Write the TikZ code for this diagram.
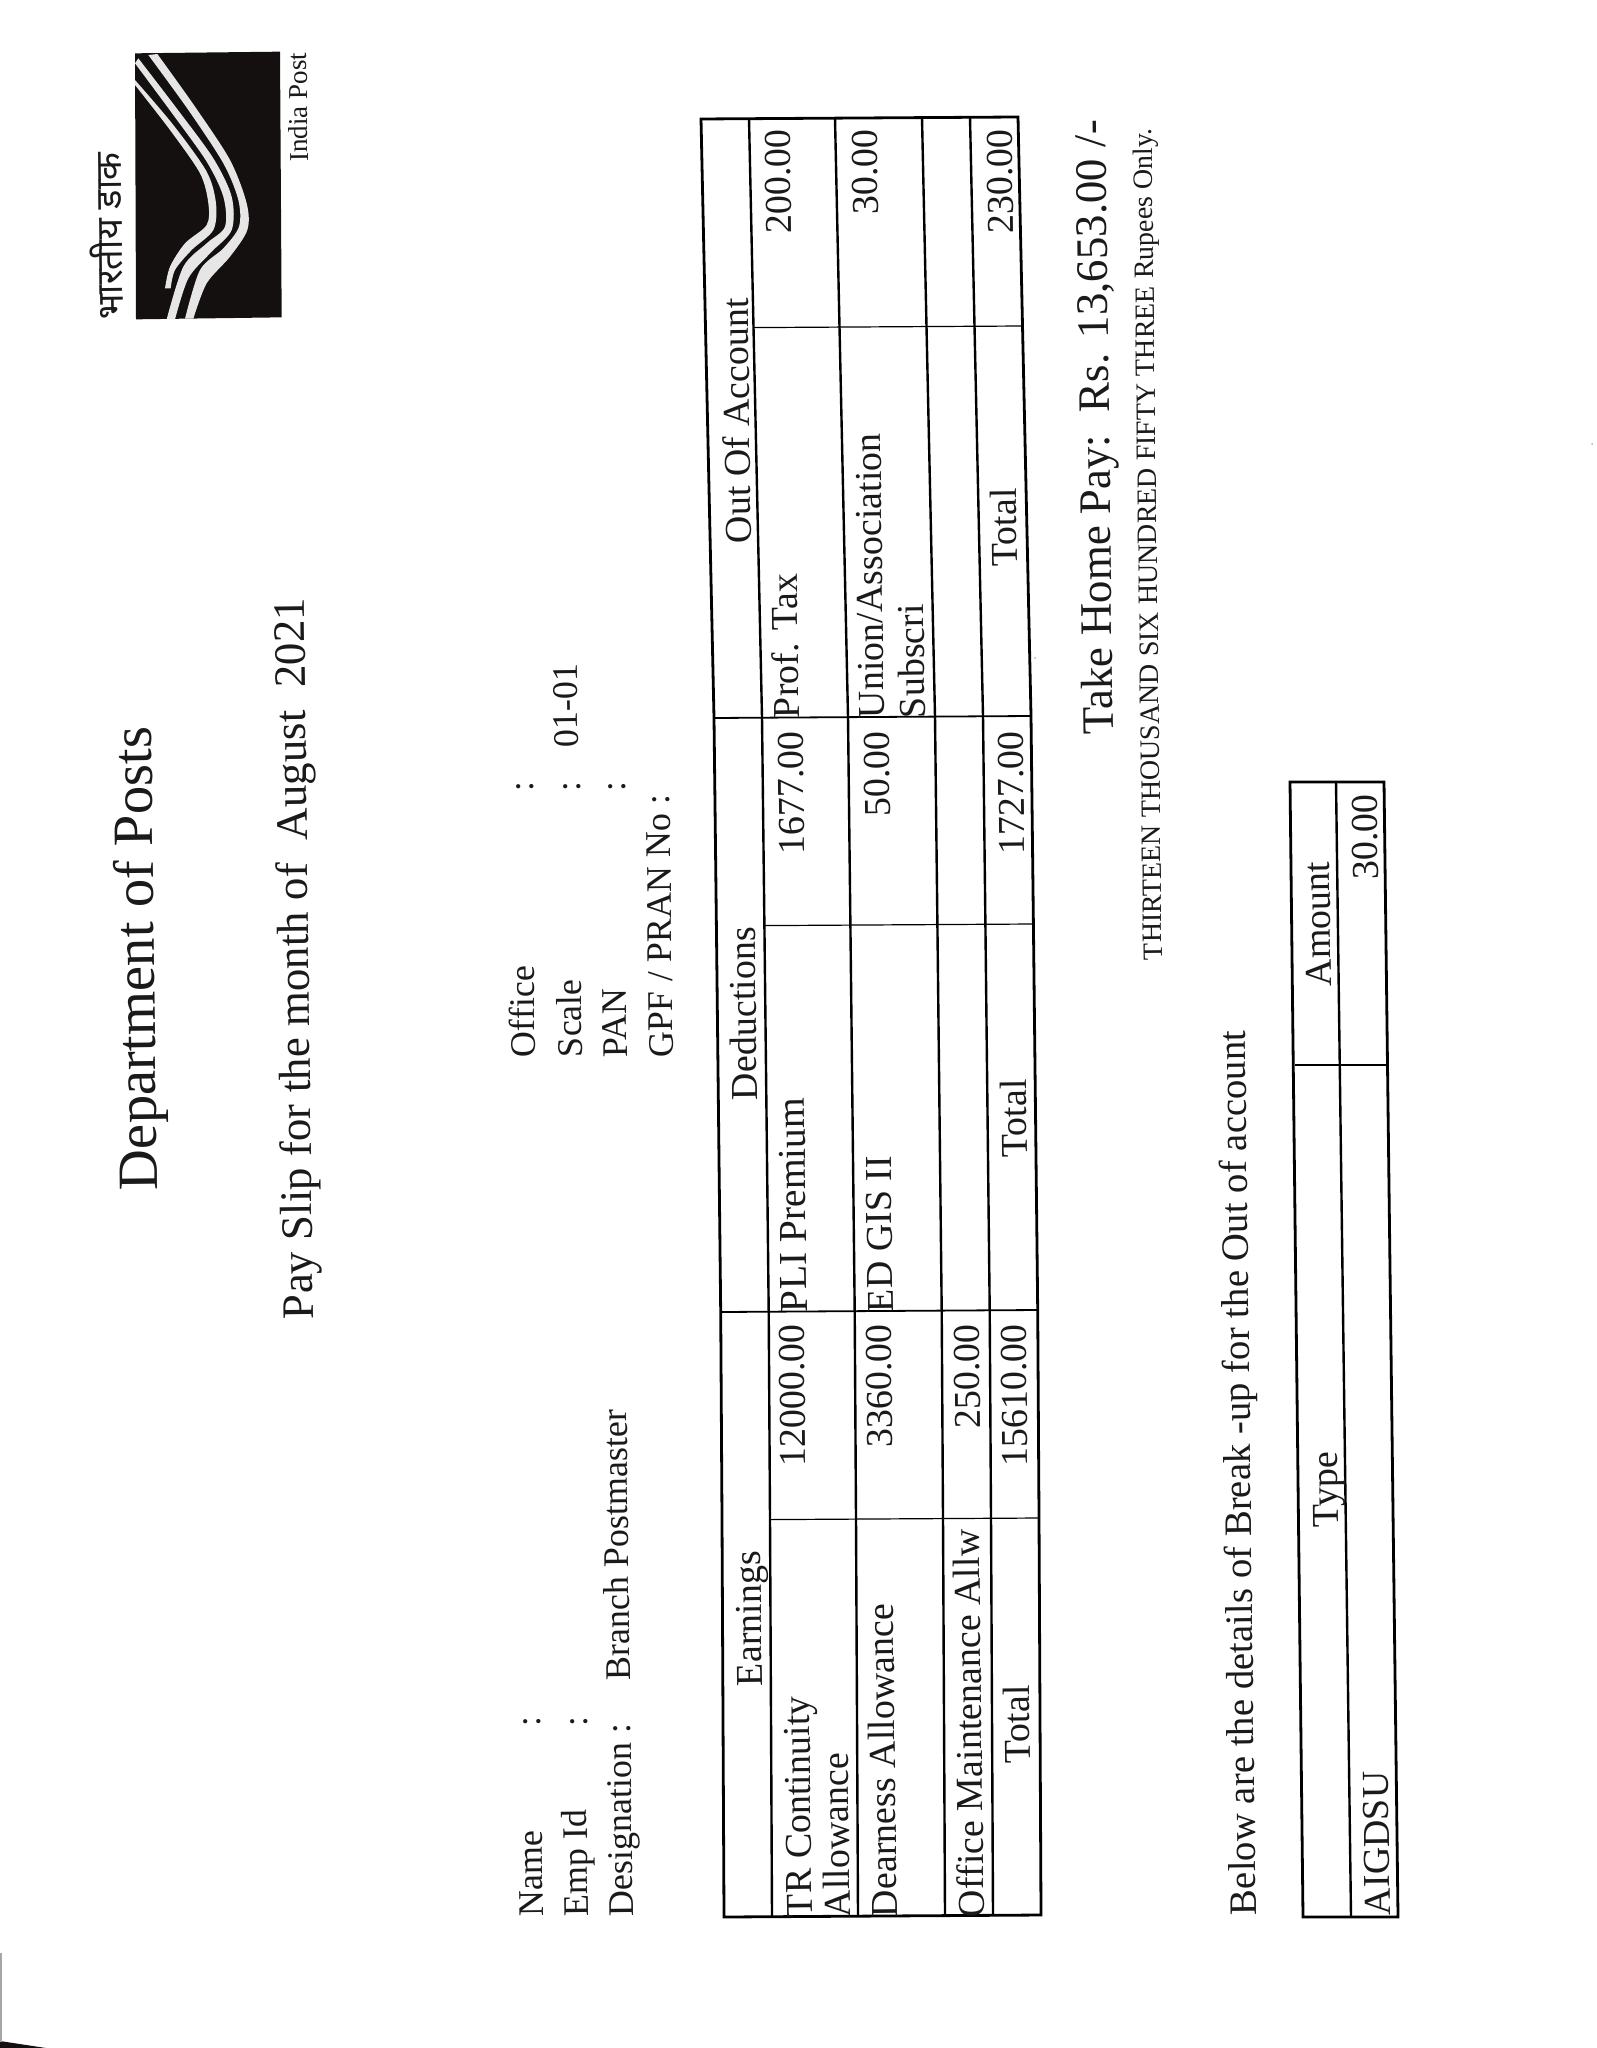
\documentclass[tikz,border=0pt]{standalone}
\usepackage{fontspec}
\setmainfont{Liberation Serif}
\newfontfamily\hindifont[Script=Devanagari]{Noto Sans}
\newcommand{\fs}[1]{\fontsize{#1}{#1}\selectfont}
\definecolor{ink}{HTML}{1A1A1A}
\definecolor{logoblack}{HTML}{141010}
\definecolor{stripe}{HTML}{E6E6E6}
\tikzset{
  txt/.style={inner sep=0pt,outer sep=0pt,rotate=90.7,text=ink},
  ltxt/.style={txt,anchor=base west},
  rtxt/.style={txt,anchor=base east},
  tbl/.style={font=\fs{19}},
  body/.style={font=\fs{18}},
  outerline/.style={draw=black,line width=1.4pt,line join=miter},
  rowline/.style={draw=black,line width=1.2pt},
  colline/.style={draw=black,line width=0.9pt},
  thinline/.style={draw=black,line width=0.6pt},
}
\begin{document}
\begin{tikzpicture}[x=0.5pt,y=-0.5pt]
\useasboundingbox (0,0) rectangle (1596,2048);
% page corner shadow
\fill[logoblack] (0,2041) -- (46,2048) -- (0,2048) -- cycle;
\fill[gray!70] (0,1953) rectangle (2,2042);
\fill[gray!60] (1592,444) circle (1);
\fill[gray!60] (1035,658) circle (1);
% logo
\begin{scope}[shift={(60,30)},x=0.16667pt,y=-0.16667pt]
\fill[logoblack] (225,70) -- (660,65) -- (665,862) -- (228,868) -- cycle;
\fill[stripe] plot[smooth] coordinates {(265,75)(385,240)(490,400)(535,510)(537,590)(490,655)(420,720)(375,866)} -- plot[smooth] coordinates {(400,866)(440,760)(510,680)(562,600)(560,520)(510,390)(405,230)(292,72)} -- cycle;
\fill[stripe] plot[smooth] coordinates {(225,100)(340,255)(440,395)(490,500)(495,590)(440,640)(370,710)(320,868)} -- plot[smooth] coordinates {(345,868)(385,745)(450,670)(515,600)(515,500)(460,385)(350,235)(235,85)} -- cycle;
\fill[stripe] plot[smooth] coordinates {(225,165)(330,300)(420,430)(445,520)(440,585)(375,640)(330,710)(315,775)} -- plot[smooth] coordinates {(332,775)(345,720)(395,660)(460,600)(468,520)(440,425)(340,285)(225,150)} -- cycle;
\end{scope}
\node[ltxt,font=\hindifont\fs{18.2}] (hindi) at (123,320) {भारतीय डाक};
\node[ltxt,font=\fs{13.6}] (ipost) at (308,162) {India Post};
% titles
\node[ltxt,font=\fs{28.4}] (dept) at (157,1190) {Department of Posts};
\node[ltxt,font=\fs{22.5}] (slip) at (313,1319) {Pay Slip for the month of\ \ August\ \ 2021};
% employee block
\node[ltxt,body] (name) at (543,1916) {Name};
\node[ltxt,body] (emp) at (588,1916) {Emp Id};
\node[ltxt,body] (desig) at (633,1916) {Designation :};
\node[ltxt,body] (c1) at (540,1726) {:};
\node[ltxt,body] (c2) at (587,1726) {:};
\node[ltxt,body] (bpm) at (630,1680) {Branch Postmaster};
\node[ltxt,body] (office) at (535,1057) {Office};
\node[ltxt,body] (scale) at (582,1057) {Scale};
\node[ltxt,body] (pan) at (627,1057) {PAN};
\node[ltxt,body] (gpf) at (673,1057) {GPF / PRAN No :};
\node[ltxt,body] (c3) at (533,791) {:};
\node[ltxt,body] (c4) at (580,791) {:};
\node[ltxt,body] (c5) at (625,791) {:};
\node[ltxt,body] (grade) at (578,747) {01-01};
% main table grid
\foreach \r/\bx in {0/701,1/749,2/835,3/922,4/970,5/1018}{
  \foreach \c/\yy/\off in {0/1917/23,1/1520/21,2/1312/19.7,3/926/15.4,4/718/13,5/328/4.5,6/119/0}{
    \pgfmathsetmacro{\gx}{\bx+\off}
    \pgfmathsetmacro{\gy}{\yy-0.4*\r}
    \coordinate (g-\r-\c) at (\gx,\gy);
  }
}
\foreach \r in {1,2,3,4}{
  \draw[rowline] (g-\r-0) -- (g-\r-1) -- (g-\r-2) -- (g-\r-3) -- (g-\r-4) -- (g-\r-5) -- (g-\r-6);
}
\foreach \c in {2,4}{
  \draw[colline] (g-0-\c) -- (g-5-\c);
}
\foreach \c in {1,3,5}{
  \draw[thinline] (g-1-\c) -- (g-5-\c);
}
\draw[outerline] (g-0-0) -- (g-0-1) -- (g-0-2) -- (g-0-3) -- (g-0-4) -- (g-0-5) -- (g-0-6) -- (g-5-6) -- (g-5-5) -- (g-5-4) -- (g-5-3) -- (g-5-2) -- (g-5-1) -- (g-5-0) -- cycle;
% headers
\node[ltxt,tbl] (h1) at (762,1686) {Earnings};
\node[ltxt,tbl] (h2) at (757,1100) {Deductions};
\node[ltxt,tbl] (h3) at (751,543) {Out Of Account};
% earnings
\node[ltxt,tbl] (e1) at (812,1917) {TR Continuity};
\node[ltxt,tbl] (e1b) at (850,1917) {Allowance};
\node[ltxt,tbl] (e2) at (897,1917) {Dearness Allowance};
\node[ltxt,tbl] (e3) at (984,1917) {Office Maintenance Allw};
\node[ltxt,tbl] (e4) at (1030,1763) {Total};
\node[rtxt,tbl] (ea1) at (804,1324) {12000.00};
\node[rtxt,tbl] (ea2) at (891,1324) {3360.00};
\node[rtxt,tbl] (ea3) at (979,1324) {250.00};
\node[rtxt,tbl] (ea4) at (1026,1324) {15610.00};
% deductions
\node[ltxt,font=\fs{19.8}] (d1) at (807,1312) {PLI Premium};
\node[ltxt,tbl] (d2) at (893,1312) {ED GIS II};
\node[ltxt,tbl] (d3) at (1027,1157) {Total};
\node[rtxt,tbl] (da1) at (803,731) {1677.00};
\node[rtxt,tbl] (da2) at (889,731) {50.00};
\node[rtxt,tbl] (da3) at (1023,731) {1727.00};
% out of account
\node[ltxt,tbl] (o1) at (799,718) {Prof. Tax};
\node[ltxt,tbl] (o2) at (884,718) {Union/Association};
\node[ltxt,tbl] (o2b) at (925,718) {Subscri};
\node[ltxt,tbl] (o3) at (1017,566) {Total};
\node[rtxt,tbl] (oa1) at (790,129.5) {200.00};
\node[rtxt,tbl] (oa2) at (877,129.5) {30.00};
\node[rtxt,tbl] (oa3) at (1012,129.5) {230.00};
% take home
\node[ltxt,font=\fs{22.5}] (take) at (1113,734) {Take Home Pay:\ \ Rs. 13,653.00 /-};
\node[ltxt,font=\fs{14}] (words) at (1162,960) {THIRTEEN THOUSAND SIX HUNDRED FIFTY THREE Rupees Only.};
% break-up
\node[ltxt,font=\fs{19.4}] (below) at (1256,1915) {Below are the details of Break -up for the Out of account};
\coordinate (s-tl) at (1290,782);
\coordinate (s-tr) at (1384,782);
\coordinate (s-bl) at (1303,1917);
\coordinate (s-br) at (1398,1917);
\coordinate (s-ml) at (1336,782);
\coordinate (s-mr) at (1351,1917);
\coordinate (s-cl) at (1295,1065);
\coordinate (s-cr) at (1387,1065);
\draw[rowline] (s-ml) -- (s-mr);
\draw[thinline] (s-cl) -- (s-cr);
\draw[outerline] (s-tl) -- (s-tr) -- (s-br) -- (s-bl) -- cycle;
\node[ltxt,tbl] (s1) at (1338,1527) {Type};
\node[ltxt,tbl] (s2) at (1331,986) {Amount};
\node[rtxt,tbl] (s3) at (1377,794) {30.00};
\node[ltxt,tbl] (s4) at (1390,1915) {AIGDSU};
\end{tikzpicture}
\end{document}
